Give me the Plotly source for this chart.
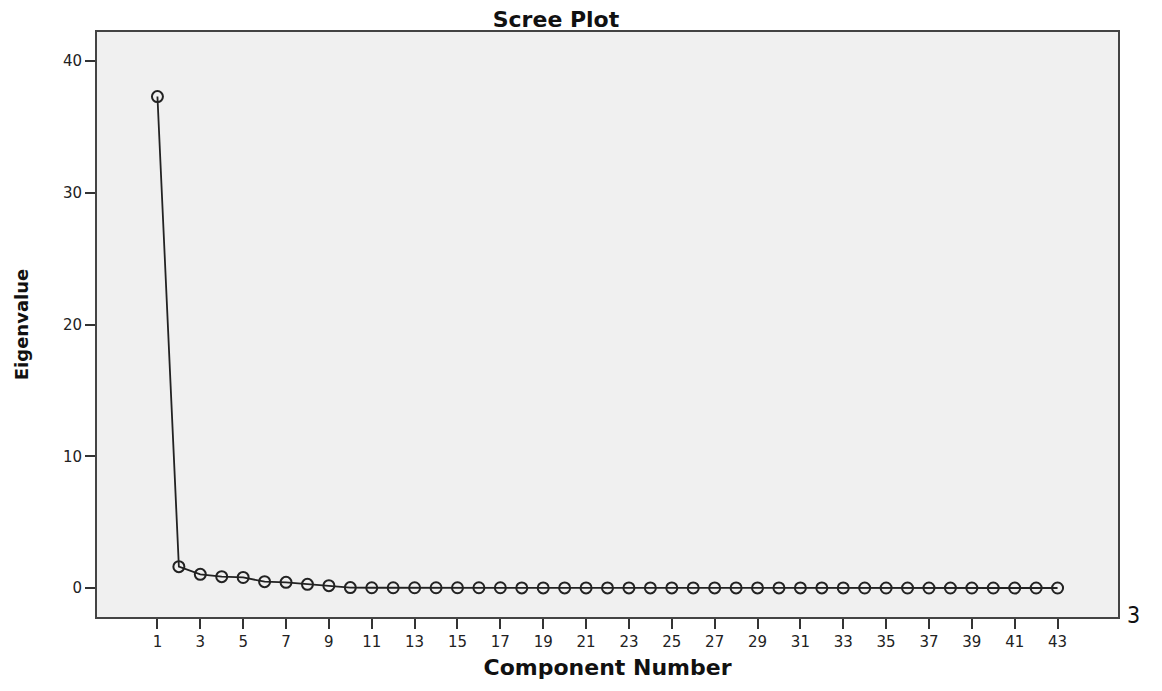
import plotly.graph_objects as go

components = list(range(1, 44))
eigenvalues = [37.3, 1.62, 1.04, 0.86, 0.80, 0.48, 0.43, 0.28, 0.18, 0.03,
               0.02, 0.02, 0.02, 0.02, 0.02, 0.02, 0.02, 0.01, 0.01, 0.01,
               0.01, 0.01, 0.01, 0.01, 0.01, 0.01, 0.01, 0.01, 0.01, 0.01,
               0.01, 0.01, 0.01, 0.0, 0.0, 0.0, 0.0, 0.0, 0.0, 0.0,
               0.0, 0.0, 0.0]
x_ticks = list(range(1, 44, 2))
y_ticks = [0, 10, 20, 30, 40]

FONT = "DejaVu Sans, Verdana, sans-serif"
W, H = 1154, 683  # page body has an 8px default margin
L, T, R, B = 79, 24, 44, 74
PW, PH = W - L - R, H - T - B

fig = go.Figure()
fig.add_trace(go.Scatter(
    x=components, y=eigenvalues, mode="lines+markers",
    line=dict(color="#222222", width=1.8),
    marker=dict(symbol="circle-open", size=11, color="#222222", line=dict(width=2)),
    showlegend=False,
))

axis_common = dict(showline=True, linecolor="#444444", linewidth=2, mirror=True,
                   showgrid=False, zeroline=False, ticks="outside", ticklen=10,
                   tickwidth=2, tickcolor="#333333",
                   tickfont=dict(family=FONT, size=15, color="#222222"))

fig.update_layout(
    width=W, height=H,
    margin=dict(l=L, r=R, t=T, b=B),
    paper_bgcolor="white", plot_bgcolor="#f0f0f0",
    title=dict(text="<b>Scree Plot</b>", x=548/W, xanchor="center", xref="container",
               y=1-11/H, yanchor="middle", yref="container",
               font=dict(family=FONT, size=22, color="#111111")),
    xaxis=dict(range=[-1.82, 45.82], tickvals=x_ticks,
               title=dict(text="<b>Component Number</b>", standoff=10,
                          font=dict(family=FONT, size=22, color="#111111")),
               **axis_common),
    yaxis=dict(range=[-2.2, 42.2], tickvals=y_ticks,
               title=dict(text="<b>Eigenvalue</b>", standoff=30,
                          font=dict(family=FONT, size=18, color="#111111")),
               **axis_common),
)

fig.add_annotation(text="3", xref="paper", yref="paper", x=(1126-L)/PW, y=(H-B-607)/PH,
                   showarrow=False, xanchor="center", yanchor="middle",
                   font=dict(family="Liberation Sans Narrow, DejaVu Sans Condensed", size=23, color="#111111"))
fig.add_annotation(text="|", xref="paper", yref="paper", x=(1149-L)/PW, y=(H-B-609)/PH,
                   showarrow=False, xanchor="center", yanchor="middle",
                   font=dict(family="DejaVu Sans", size=32, color="#111111"))

fig.write_html("out.html")
